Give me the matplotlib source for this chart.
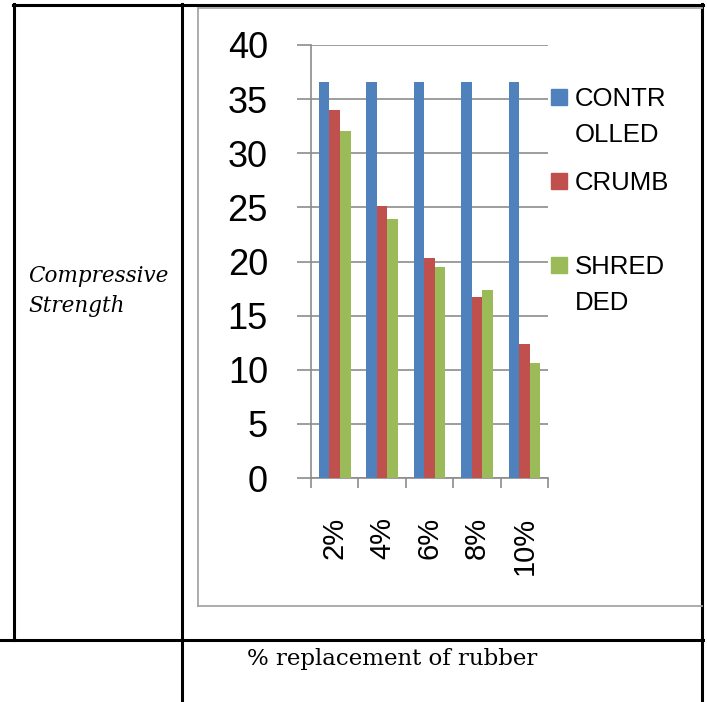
import numpy as np
import matplotlib.pyplot as plt
from matplotlib.lines import Line2D
from matplotlib.patches import Rectangle

# data
categories = ['2%', '4%', '6%', '8%', '10%']
controlled = [36.6, 36.6, 36.6, 36.6, 36.6]
crumb = [34.0, 25.1, 20.3, 16.7, 12.4]
shredded = [32.1, 23.9, 19.5, 17.4, 10.6]
series_names = ['CONTR\nOLLED', 'CRUMB', 'SHRED\nDED']
colors = ['#4F81BD', '#C0504D', '#9BBB59']

W, H = 707, 702
fig = plt.figure(figsize=(W/100, H/100), dpi=100)

def fx(px):
    return px / W

def fy(py):
    return 1 - py / H

# table grid (black) and chart frame (gray)
def hline(y, x0, x1, c='black', lw=2.2):
    fig.add_artist(Line2D([fx(x0), fx(x1)], [fy(y), fy(y)], color=c, lw=lw,
                          transform=fig.transFigure))

def vline(x, y0, y1, c='black', lw=2.2):
    fig.add_artist(Line2D([fx(x), fx(x)], [fy(y0), fy(y1)], color=c, lw=lw,
                          transform=fig.transFigure))

hline(5, 13, 703)
hline(640, 0, 703)
vline(14, 4, 640)
vline(182, 4, 702)
vline(702, 4, 702)
# chart frame
hline(8, 198, 702, c='#A6A6A6', lw=1.3)
hline(606, 198, 702, c='#A6A6A6', lw=1.3)
vline(198, 8, 606, c='#A6A6A6', lw=1.3)

fig.text(fx(28), fy(282), 'Compressive', family='DejaVu Serif',
         style='italic', fontsize=15.5, ha='left', va='baseline')
fig.text(fx(28), fy(312), 'Strength', family='DejaVu Serif',
         style='italic', fontsize=15.5, ha='left', va='baseline')
fig.text(fx(392), fy(665), '% replacement of rubber', family='DejaVu Serif',
         fontsize=16.5, ha='center', va='baseline')

# chart
ax = fig.add_axes([fx(311), fy(478), fx(548) - fx(311), (478 - 45) / H])
x = np.arange(len(categories))
bw = 1 / 4.5
for i, vals in enumerate([controlled, crumb, shredded]):
    ax.bar(x + (i - 1) * bw, vals, bw, color=colors[i], zorder=3)

ax.set_xlim(-0.5, len(categories) - 0.5)
ax.set_ylim(0, 40)
ax.set_yticks(np.arange(0, 41, 5))
ax.grid(axis='y', color='#8C8C8C', lw=1.2, zorder=0)
ax.set_xticks(x)
ax.set_xticklabels(categories, rotation=90, family='Liberation Sans', fontsize=21)
ax.set_xticks(np.arange(-0.5, len(categories)), minor=True)
ax.tick_params(axis='x', which='major', length=0, pad=28)
ax.tick_params(axis='x', which='minor', length=7, color='#8C8C8C', width=1.2)
ax.tick_params(axis='y', length=10, color='#8C8C8C', width=1.2, pad=21,
               labelsize=26)
for lab in ax.get_yticklabels():
    lab.set_family('Liberation Sans')
for s in ['top', 'right']:
    ax.spines[s].set_visible(False)
for s in ['left', 'bottom']:
    ax.spines[s].set_color('#8C8C8C')
    ax.spines[s].set_linewidth(1.2)

# legend
leg_y = [97, 181, 265]
for i, name in enumerate(series_names):
    fig.add_artist(Rectangle((fx(551), fy(leg_y[i] + 8)), 16 / W, 16 / H,
                             color=colors[i], transform=fig.transFigure))
    for j, part in enumerate(name.split('\n')):
        fig.text(fx(575), fy(leg_y[i] + 9 + 36 * j), part,
                 family='Liberation Sans', fontsize=18.5, ha='left',
                 va='baseline')
plt.savefig('out.png', dpi=100)
